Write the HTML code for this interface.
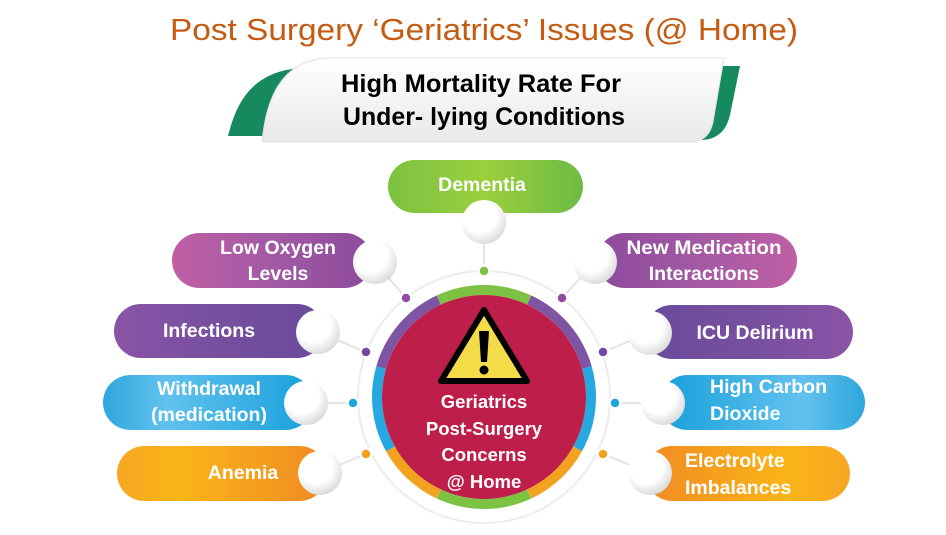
<!DOCTYPE html>
<html><head><meta charset="utf-8"><style>
html,body{margin:0;padding:0;background:#fff;}
svg{display:block;}
text{font-family:"Liberation Sans",Arial,sans-serif;}
.b{font-weight:bold;fill:#fff;font-size:19.5px;}
.c{font-weight:bold;fill:#fff;font-size:18.5px;}
</style></head><body>
<svg width="946" height="535" viewBox="0 0 946 535" xmlns="http://www.w3.org/2000/svg">
<defs>
<linearGradient id="gGreen" x1="0" x2="1"><stop offset="0" stop-color="#7cc142"/><stop offset="0.5" stop-color="#9bcf3c"/><stop offset="1" stop-color="#6dbb45"/></linearGradient>
<linearGradient id="gPinkL" x1="0" x2="1"><stop offset="0" stop-color="#c05fa5"/><stop offset="0.5" stop-color="#a25aa3"/><stop offset="1" stop-color="#8c4a9c"/></linearGradient>
<linearGradient id="gPinkR" x1="1" x2="0"><stop offset="0" stop-color="#c05fa5"/><stop offset="0.5" stop-color="#a25aa3"/><stop offset="1" stop-color="#8c4a9c"/></linearGradient>
<linearGradient id="gPurp" x1="0" x2="1"><stop offset="0" stop-color="#8b54a6"/><stop offset="0.4" stop-color="#7a50a0"/><stop offset="1" stop-color="#6a4b9c"/></linearGradient>
<linearGradient id="gPurpR" x1="1" x2="0"><stop offset="0" stop-color="#8b54a6"/><stop offset="0.4" stop-color="#7a50a0"/><stop offset="1" stop-color="#6a4b9c"/></linearGradient>
<linearGradient id="gBlue" x1="0" x2="1"><stop offset="0" stop-color="#2ea6dd"/><stop offset="0.3" stop-color="#62c2ee"/><stop offset="1" stop-color="#17a0db"/></linearGradient>
<linearGradient id="gBlueR" x1="1" x2="0"><stop offset="0" stop-color="#2ea6dd"/><stop offset="0.3" stop-color="#62c2ee"/><stop offset="1" stop-color="#17a0db"/></linearGradient>
<linearGradient id="gOr" x1="0" x2="1"><stop offset="0" stop-color="#f6a623"/><stop offset="0.3" stop-color="#fbb517"/><stop offset="1" stop-color="#ef8a24"/></linearGradient>
<linearGradient id="gOrR" x1="1" x2="0"><stop offset="0" stop-color="#f6a623"/><stop offset="0.3" stop-color="#fbb517"/><stop offset="1" stop-color="#ef8a24"/></linearGradient>
<radialGradient id="wc" cx="0.4" cy="0.35" r="0.7"><stop offset="0.55" stop-color="#ffffff"/><stop offset="1" stop-color="#d6d6d6"/></radialGradient>
<linearGradient id="ban" x1="0" y1="0" x2="0" y2="1"><stop offset="0" stop-color="#ffffff"/><stop offset="1" stop-color="#e9e9e9"/></linearGradient>
</defs>

<text x="170" y="40" font-size="31" fill="#c55a11" textLength="628" lengthAdjust="spacingAndGlyphs">Post Surgery  ‘Geriatrics’ Issues (@ Home)</text>

<!-- banner -->
<path d="M228,136 C236,105 250,72 300,68 L320,68 C285,80 272,110 266,136 Z" fill="#168a5e"/>
<path d="M700,66 L740,66 L730,115 C726,132 716,140 700,140 L684,140 C700,130 706,100 700,66 Z" fill="#168a5e"/>
<path d="M262,142 C266,100 280,62 325,58 L724,58 L713,122 C710,136 702,142 690,142 Z" fill="url(#ban)" stroke="#e0e0e0" stroke-width="1"/>
<text x="481" y="92" font-size="25" font-weight="bold" text-anchor="middle" fill="#000" textLength="280" lengthAdjust="spacingAndGlyphs">High Mortality Rate For</text>
<text x="484" y="125" font-size="25" font-weight="bold" text-anchor="middle" fill="#000" textLength="282" lengthAdjust="spacingAndGlyphs">Under- lying Conditions</text>

<circle cx="484" cy="397" r="126" fill="none" stroke="#ececec" stroke-width="2"/>
<g stroke="#e3e3e3" stroke-width="2">
<line x1="484" y1="271" x2="484" y2="235"/>
<line x1="406" y1="298" x2="375" y2="262"/>
<line x1="562" y1="298" x2="595" y2="262"/>
<line x1="366" y1="352" x2="318" y2="332"/>
<line x1="603" y1="352" x2="650" y2="333"/>
<line x1="353" y1="403" x2="306" y2="403"/>
<line x1="615" y1="403" x2="663" y2="403"/>
<line x1="366" y1="454" x2="320" y2="473"/>
<line x1="603" y1="454" x2="650" y2="473"/>
</g>

<rect x="388" y="160" width="195" height="53" rx="26.5" fill="url(#gGreen)"/>
<text class="b" x="482" y="191" text-anchor="middle" font-size="20">Dementia</text>
<rect x="172" y="233" width="200" height="55" rx="27.5" fill="url(#gPinkL)"/>
<text class="b" x="278" y="254" text-anchor="middle">Low Oxygen</text>
<text class="b" x="278" y="280" text-anchor="middle">Levels</text>
<rect x="597" y="233" width="200" height="55" rx="27.5" fill="url(#gPinkR)"/>
<text class="b" x="704" y="254" text-anchor="middle" textLength="155" lengthAdjust="spacingAndGlyphs">New Medication</text>
<text class="b" x="704" y="280" text-anchor="middle">Interactions</text>
<rect x="114" y="304" width="210" height="54" rx="27" fill="url(#gPurp)"/>
<text class="b" x="209" y="337" text-anchor="middle">Infections</text>
<rect x="645" y="305" width="208" height="54" rx="27" fill="url(#gPurpR)"/>
<text class="b" x="755" y="339" text-anchor="middle">ICU Delirium</text>
<rect x="103" y="375" width="210" height="55" rx="27.5" fill="url(#gBlue)"/>
<text class="b" x="209" y="395" text-anchor="middle">Withdrawal</text>
<text class="b" x="209" y="421" text-anchor="middle">(medication)</text>
<rect x="660" y="375" width="205" height="55" rx="27.5" fill="url(#gBlueR)"/>
<text class="b" x="710" y="393">High Carbon</text>
<text class="b" x="710" y="420">Dioxide</text>
<rect x="117" y="446" width="210" height="55" rx="27.5" fill="url(#gOr)"/>
<text class="b" x="243" y="479" text-anchor="middle">Anemia</text>
<rect x="645" y="446" width="205" height="55" rx="27.5" fill="url(#gOrR)"/>
<text class="b" x="685" y="467">Electrolyte</text>
<text class="b" x="685" y="494">Imbalances</text>

<g fill="url(#wc)">
<circle cx="484" cy="222" r="22"/>
<circle cx="375" cy="262" r="22"/>
<circle cx="595" cy="262" r="22"/>
<circle cx="318" cy="332" r="22"/>
<circle cx="650" cy="333" r="22"/>
<circle cx="306" cy="403" r="22"/>
<circle cx="663" cy="403" r="22"/>
<circle cx="320" cy="473" r="22"/>
<circle cx="650" cy="473" r="22"/>
</g>

<g stroke="#fff" stroke-width="2.5">
<circle cx="484" cy="271" r="5.5" fill="#7dc242"/>
<circle cx="406" cy="298" r="5.5" fill="#8e4d9f"/>
<circle cx="562" cy="298" r="5.5" fill="#8e4d9f"/>
<circle cx="366" cy="352" r="5.5" fill="#6f4a9e"/>
<circle cx="603" cy="352" r="5.5" fill="#6f4a9e"/>
<circle cx="353" cy="403" r="5.5" fill="#1fa5df"/>
<circle cx="615" cy="403" r="5.5" fill="#1fa5df"/>
<circle cx="366" cy="454" r="5.5" fill="#f4a01e"/>
<circle cx="603" cy="454" r="5.5" fill="#f4a01e"/>
</g>

<circle cx="484" cy="397" r="113" fill="#fff"/>
<g fill="none" stroke-width="10">
<circle cx="484" cy="397" r="107" stroke="#7dc242" pathLength="360" stroke-dasharray="50 400" transform="rotate(-115 484 397)"/>
<circle cx="484" cy="397" r="107" stroke="#7e55a3" pathLength="360" stroke-dasharray="49 400" transform="rotate(-65 484 397)"/>
<circle cx="484" cy="397" r="107" stroke="#27a8e0" pathLength="360" stroke-dasharray="45 400" transform="rotate(-16 484 397)"/>
<circle cx="484" cy="397" r="107" stroke="#f3a21f" pathLength="360" stroke-dasharray="36 400" transform="rotate(29 484 397)"/>
<circle cx="484" cy="397" r="107" stroke="#7dc242" pathLength="360" stroke-dasharray="50 400" transform="rotate(65 484 397)"/>
<circle cx="484" cy="397" r="107" stroke="#f3a21f" pathLength="360" stroke-dasharray="36 400" transform="rotate(115 484 397)"/>
<circle cx="484" cy="397" r="107" stroke="#27a8e0" pathLength="360" stroke-dasharray="45 400" transform="rotate(151 484 397)"/>
<circle cx="484" cy="397" r="107" stroke="#7e55a3" pathLength="360" stroke-dasharray="49 400" transform="rotate(196 484 397)"/>
</g>
<circle cx="484" cy="397" r="102" fill="#be1e4a"/>
<path d="M484,310 L527,381 L441,381 Z" fill="#f4dc48" stroke="#000" stroke-width="6" stroke-linejoin="round"/>
<path d="M479,331 L489,331 L487,362 L481,362 Z" fill="#000"/>
<circle cx="484" cy="370" r="4.5" fill="#000"/>
<text class="c" x="484" y="408" text-anchor="middle">Geriatrics</text>
<text class="c" x="484" y="435" text-anchor="middle">Post-Surgery</text>
<text class="c" x="484" y="461" text-anchor="middle">Concerns</text>
<text class="c" x="484" y="488" text-anchor="middle">@ Home</text>
</svg>
</body></html>
